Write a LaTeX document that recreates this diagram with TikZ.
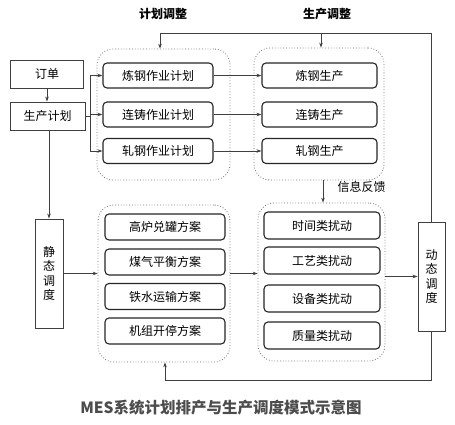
\documentclass[tikz,border=0pt]{standalone}
\usepackage{fontspec}
\setmainfont{Noto Sans CJK SC}
\usetikzlibrary{arrows.meta}

\begin{document}
\begin{tikzpicture}[x=1pt,y=-1pt,
                    font=\fontsize{12}{13}\selectfont,
                    plainbox/.style={draw=black!75,line width=0.9pt,inner sep=0pt},
                    taskbox/.style={draw=black!85,line width=1.1pt,rounded corners=4pt,inner sep=0pt},
                    groupbox/.style={draw=black!55,dotted,line width=0.8pt,rounded corners=16pt,inner sep=0pt},
                    link/.style={draw=black!75,line width=0.7pt},
                    arr/.style={link,-{Stealth[length=5pt,width=3.5pt]}},
                    headline/.style={font=\fontsize{12}{13}\selectfont\bfseries}]
                    \fill[white] (0,0) rectangle (455,425);
                    \useasboundingbox (0,0) rectangle (455,425);

                    \node[headline] (planadj) at (163,14) {计划调整};
                    \node[headline] (prodadj) at (327,14) {生产调整};

                    \node[plainbox,minimum width=73pt,minimum height=28pt] (order) at (47,74) {订单};
                    \node[plainbox,minimum width=75pt,minimum height=28pt] (plan) at (47.5,116) {生产计划};
                    \node[plainbox,minimum width=28pt,minimum height=109pt,align=center,
                          font=\fontsize{12}{14.5}\selectfont] (static) at (49,273.5) {静\\态\\调\\度};
                    \node[plainbox,minimum width=27pt,minimum height=109pt,align=center,
                          font=\fontsize{12}{14.5}\selectfont] (dynamic) at (431.5,276.5) {动\\态\\调\\度};

                    \node[groupbox,minimum width=133pt,minimum height=131pt] (grpplan) at (163.5,114.5) {};
                    \node[groupbox,minimum width=130pt,minimum height=132pt] (grpprod) at (319,114) {};
                    \node[groupbox,minimum width=132pt,minimum height=157pt] (grpstatic) at (164,283.5) {};
                    \node[groupbox,minimum width=127pt,minimum height=158pt] (grpdist) at (321.5,282) {};

                    \node[taskbox,minimum width=110pt,minimum height=25pt] (plansteel) at (158,75.5) {炼钢作业计划};
                    \node[taskbox,minimum width=110pt,minimum height=25pt] (plancast) at (158,114.5) {连铸作业计划};
                    \node[taskbox,minimum width=110pt,minimum height=25pt] (planroll) at (158,151) {轧钢作业计划};

                    \node[taskbox,minimum width=115pt,minimum height=25pt] (prodsteel) at (319.5,75.5) {炼钢生产};
                    \node[taskbox,minimum width=115pt,minimum height=25pt] (prodcast) at (319.5,114.5) {连铸生产};
                    \node[taskbox,minimum width=115pt,minimum height=25pt] (prodroll) at (319.5,151) {轧钢生产};

                    \node[taskbox,minimum width=120pt,minimum height=26pt] (furnace) at (165,227) {高炉兑罐方案};
                    \node[taskbox,minimum width=120pt,minimum height=26pt] (gas) at (165,262) {煤气平衡方案};
                    \node[taskbox,minimum width=120pt,minimum height=26pt] (iron) at (165,296.5) {铁水运输方案};
                    \node[taskbox,minimum width=120pt,minimum height=26pt] (unit) at (165,331) {机组开停方案};

                    \node[taskbox,minimum width=116pt,minimum height=27pt] (disttime) at (322,225.5) {时间类扰动};
                    \node[taskbox,minimum width=116pt,minimum height=27pt] (distproc) at (322,260.5) {工艺类扰动};
                    \node[taskbox,minimum width=116pt,minimum height=27pt] (distdev) at (322,298.5) {设备类扰动};
                    \node[taskbox,minimum width=116pt,minimum height=27pt] (distqual) at (322,335.5) {质量类扰动};

                    \node[anchor=west] (feedback) at (334,187) {信息反馈};

                    \node[font=\fontsize{15.5}{17}\selectfont\bfseries,text=black!70] (caption) at (221,408)
                          {MES系统计划排产与生产调度模式示意图};

                    \coordinate (branch) at (90,116);
                    \coordinate (topleft) at (160,33);
                    \coordinate (topmid) at (321,33);
                    \coordinate (feedtop) at (323,180);
                    \coordinate (bottomleft) at (165,380);

                    \draw[arr] (order.south) -- (order.south |- plan.north);
                    \draw[link] (plan.east) -- (branch);
                    \draw[link] (branch |- plansteel) -- (branch |- planroll);
                    \draw[arr] (branch |- plansteel) -- (plansteel.west);
                    \draw[arr] (branch |- plancast) -- (plancast.west);
                    \draw[arr] (branch |- planroll) -- (planroll.west);

                    \draw[arr] (plansteel.east) -- (prodsteel.west);
                    \draw[arr] (plancast.east) -- (prodcast.west);
                    \draw[arr] (planroll.east) -- (prodroll.west);

                    \draw[arr] (static.north |- plan.south) -- (static.north);
                    \draw[arr] (static.east) -- (static.east -| grpstatic.west);
                    \draw[arr] (static.east -| grpstatic.east) -- (static.east -| grpdist.west);
                    \draw[arr] (dynamic.west -| grpdist.east) -- (dynamic.west);

                    \draw[arr] (feedtop) -- (feedtop |- grpdist.north);

                    \draw[arr] (dynamic.north) |- (topleft) -- (topleft |- grpplan.north);
                    \draw[arr] (topmid) -- (topmid |- grpprod.north);
                    \draw[arr] (dynamic.south) |- (bottomleft) -- (bottomleft |- grpstatic.south);
                \end{tikzpicture}
\end{document}
